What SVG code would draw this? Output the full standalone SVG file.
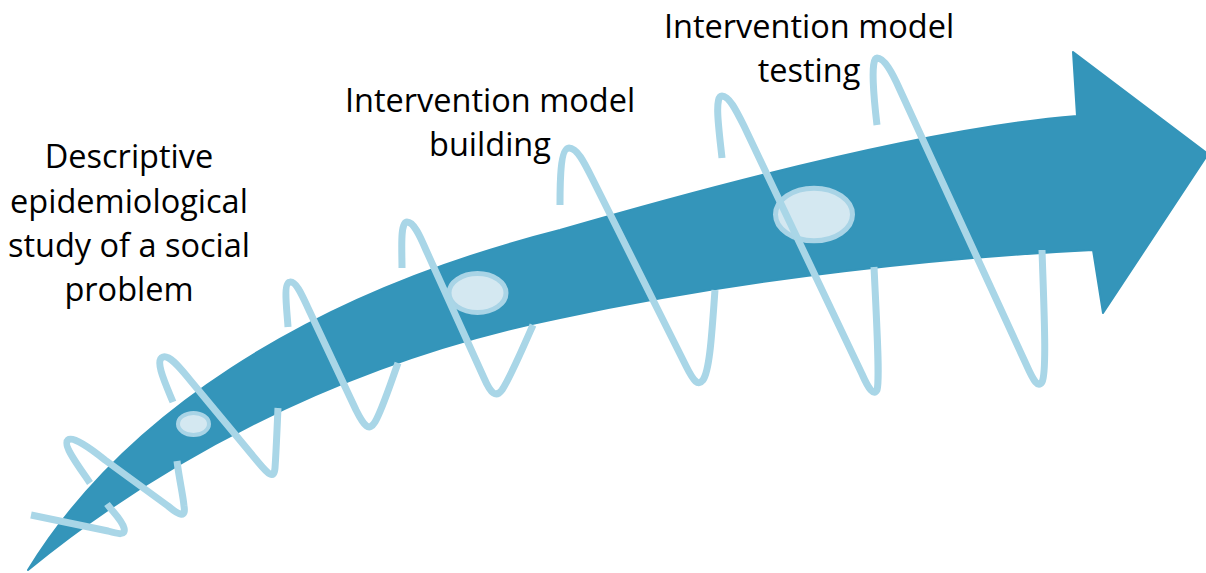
<svg xmlns="http://www.w3.org/2000/svg" width="1206" height="573" viewBox="0 0 1206 573">
<style>
.coil{fill:none;stroke:#A9D6E7;stroke-width:7;stroke-linejoin:round}
.dot{fill:#D4E8F1;stroke:#A9D4E6}
.lbl{font-family:"Open Sans","Noto Sans",sans-serif;font-size:32.5px;fill:#000;text-anchor:middle}
</style>
<rect width="1206" height="573" fill="#fff"/>
<g id="arrow">
<path d="M28,570 C120,420 300,296 560,230 C760,172 950,126 1077,116 L1073,52 L1208,154 L1103,313 L1093,250 C950,257 750,277 560,318 C330,365 150,470 28,570 Z" fill="#3495BA" stroke="#3495BA" stroke-width="2" stroke-linejoin="round"/>
</g>
<g id="markers">
<ellipse id="m1" class="dot" cx="193.5" cy="424" rx="15.5" ry="11" stroke-width="4"/>
<ellipse id="m2" class="dot" cx="477.5" cy="293" rx="28.5" ry="19.5" stroke-width="5"/>
<ellipse id="m3" class="dot" cx="814" cy="214.5" rx="38.5" ry="26.3" stroke-width="5"/>
</g>
<g id="spiral">
<path class="coil" d="M31,515 L108,531 C118,534 126,536 124,528 C122,520 113,512 107,504"/>
<path class="coil" d="M90,483 C80,468 62,445 68,440 C73,436 90,448 105,460 L168,506 C180,516 186,518 184,506 C183,495 179,478 177,461"/>
<path class="coil" d="M173,402 C166,385 154,360 163,357 C170,355 180,368 190,380 L258,462 C268,474 274,480 275,468 C276,455 277,430 278,408"/>
<path class="coil" d="M288,327 C287,310 283,283 290,282 C296,281 302,295 308,308 L356,410 C364,426 369,432 375,422 C382,410 390,385 398,363"/>
<path class="coil" d="M402,268 C402,250 400,222 407,222 C414,222 420,236 426,250 L484,378 C491,394 496,398 502,390 C510,378 522,350 533,325"/>
<path class="coil" d="M560,205 C560,185 560,148 569,148 C577,148 584,162 592,178 L686,366 C694,382 698,386 703,380 C710,370 712,330 715,290"/>
<path class="coil" d="M722,158 C719,130 714,96 722,96 C729,96 736,110 744,126 L862,374 C869,390 874,396 877,390 C880,380 877,330 874,267"/>
<path class="coil" d="M877,125 C874,100 870,58 877,58 C884,58 892,72 900,90 L1026,364 C1034,382 1038,388 1042,382 C1047,372 1044,310 1042,250"/>
</g>
<g id="label1">
<text class="lbl" x="129" y="168">Descriptive</text>
<text class="lbl" x="129" y="213">epidemiological</text>
<text class="lbl" x="129" y="257">study of a social</text>
<text class="lbl" x="129" y="301">problem</text>
</g>
<g id="label2">
<text class="lbl" x="490" y="112">Intervention model</text>
<text class="lbl" x="490" y="156">building</text>
</g>
<g id="label3">
<text class="lbl" x="809" y="38">Intervention model</text>
<text class="lbl" x="809" y="82">testing</text>
</g>
</svg>
